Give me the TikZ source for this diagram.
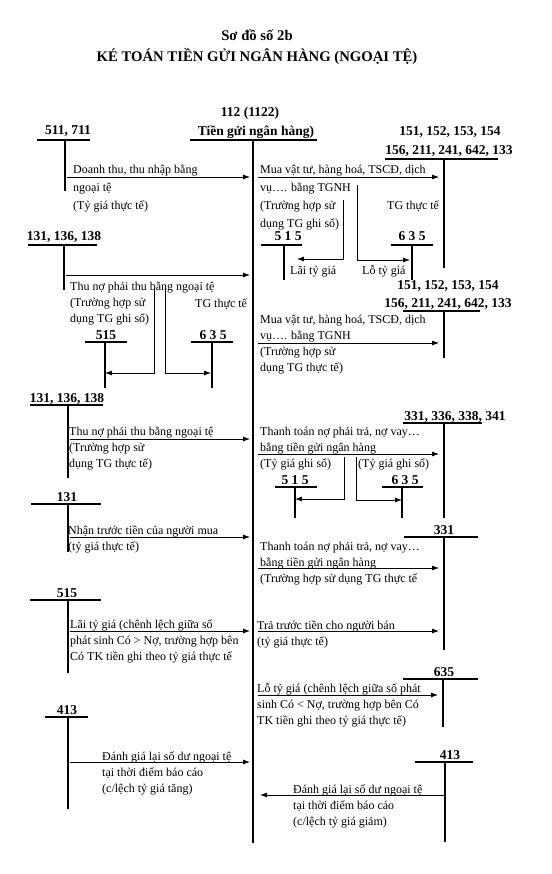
\documentclass[tikz,border=0pt]{standalone}
\usepackage{fontspec}
\setmainfont{Liberation Serif}
\usetikzlibrary{arrows.meta, calc}

\begin{document}
\begin{tikzpicture}[x=1pt, y=-1pt,
    title/.style={font=\fontsize{14.7}{17}\selectfont\bfseries, inner sep=0},
    acct/.style={font=\fontsize{13.5}{15}\selectfont\bfseries, inner sep=0, anchor=base},
    txt/.style={font=\fontsize{12}{16}\selectfont, align=left, inner sep=0, anchor=base west},
    tbar/.style={line width=1.1pt},
    flow/.style={-{Latex[length=7pt,width=5pt]}, line width=0.8pt},
    tomain/.style={flow, shorten <=2pt, shorten >=3pt},
    frommain/.style={flow, shorten <=5pt, shorten >=5pt}]

  \useasboundingbox (0,0) rectangle (551,874);

  \node[title] (ttl1) at (257,35) {Sơ đồ số 2b};
  \node[title] (ttl2) at (257,57) {KÉ TOÁN TIỀN GỬI NGÂN HÀNG (NGOẠI TỆ)};

  % TK 112
  \node[acct] (k112) at (250,117) {112 (1122)};
  \node[acct] (k112n) at (256,136) {Tiền gửi ngân hàng)};
  \draw[line width=1.4pt] (190,140) -- (317,140);
  \draw[line width=2.2pt] (253,140) coordinate (m) -- (253,843);

  % cac TK doi ung
  \foreach \nm/\lb/\lx/\ly/\xa/\xb/\by/\vx/\vy in {
      k511/{511, 711}/68/135/37/90/140/65/191,
      k515a/{5 1 5}/288/241/261/302/245/284/280,
      k635a/{6 3 5}/412/241/391/433/245/412/280,
      k131a/{131, 136, 138}/64/241/28/97/245/64/290,
      k515b/{515}/106/339/85/127/342/105/388,
      k635b/{6 3 5}/213/339/191/233/342/212/388,
      k131b/{131, 136, 138}/67/402/30/103/405/68/478,
      k331a/{331, 336, 338, 341}/455/420/403/482/423/444/518,
      k515c/{5 1 5}/295/484/275/317/487/295/518,
      k635c/{6 3 5}/405/484/382/423/487/402/518,
      k131c/{131}/67/501/31/101/504/68/552,
      k331b/{331}/444/534/404/478/537/444/650,
      k515d/{515}/67/597/30/101/600/68/673,
      k635d/{635}/444/676/403/478/679/443/727,
      k413a/{413}/67/714/45/88/717/68/809,
      k413b/{413}/450/759/415/473/762/445/842}
  {
    \node[acct] (\nm) at (\lx,\ly) {\lb};
    \draw[tbar] (\xa,\by) -- (\xb,\by);
    \draw[tbar] (\vx,\by) coordinate (v\nm) -- (\vx,\vy);
  }

  \node[acct] (k151a) at (450,136) {151, 152, 153, 154};
  \node[acct] (k156a) at (449,155) {156, 211, 241, 642, 133};
  \draw[tbar] (385,159) -- (498,159);
  \draw[tbar] (444,159) coordinate (vk151a) -- (444,268);
  \node[acct] (k151b) at (448,289) {151, 152, 153, 154};
  \node[acct] (k156b) at (448,307) {156, 211, 241, 642, 133};
  \draw[tbar] (403,311) -- (480,311);
  \draw[tbar] (444,311) coordinate (vk151b) -- (444,358);

  % cac dong
  \foreach \n/\y in {1/177, 2/275, 3/343, 4/439, 5/454, 6/537, 7/568, 8/631, 9/695, 10/762, 11/795}
    \coordinate (r\n) at (0,\y);

  \draw[tomain] (vk511 |- r1) -- (m |- r1);
  \draw[frommain] (m |- r1) -- (vk151a |- r1);
  \draw[tomain] (vk131a |- r2) -- (m |- r2);
  \draw[frommain] (m |- r3) -- (vk151b |- r3);
  \draw[tomain] (vk131b |- r4) -- (m |- r4);
  \draw[frommain] (m |- r5) -- (vk331a |- r5);
  \draw[tomain] (vk131c |- r6) -- (m |- r6);
  \draw[frommain] (m |- r7) -- (vk331b |- r7);
  \draw[tomain] (vk515d |- r8) -- (m |- r8);
  \draw[frommain] (m |- r8) -- (vk331b |- r8);
  \draw[frommain] (m |- r9) -- (vk635d |- r9);
  \draw[tomain] (vk413a |- r10) -- (m |- r10);
  \draw[flow, shorten >=7pt] (vk413b |- r11) -- (m |- r11);

  % nhanh chenh lech ty gia
  \coordinate (b1) at (343,200); \coordinate (e1) at (297,259);
  \coordinate (b2) at (357,185); \coordinate (e2) at (410,260);
  \coordinate (b3) at (154,288); \coordinate (e3) at (105,373);
  \coordinate (b4) at (165,288); \coordinate (e4) at (211,373);
  \coordinate (b5) at (344,457); \coordinate (e5) at (295,499);
  \coordinate (b6) at (356,457); \coordinate (e6) at (402,500);
  \foreach \i in {1,...,6}
    \draw[flow] (b\i) |- (e\i);

  % dien giai (base = dong cuoi)
  \node[txt] (d1) at (73,210) {Doanh thu, thu nhập bằng\\[2pt]ngoại tệ\\[2pt](Tỷ giá thực tế)};
  \node[txt] (d2) at (260,228) {Mua vật tư, hàng hoá, TSCĐ, dịch\\[2pt]vụ…. bằng TGNH\\[2pt](Trường hợp sử\\[2pt]dụng TG ghi sổ)};
  \node[txt] (d3) at (387,210) {TG thực tế};
  \node[txt] (d4) at (290,274) {Lãi tỷ giá};
  \node[txt] (d5) at (362,274) {Lỗ tỷ giá};
  \node[txt] (d6) at (70,322) {Thu nợ phải thu bằng ngoại tệ\\(Trường hợp sử\\dụng TG ghi sổ)};
  \node[txt] (d7) at (195,307) {TG thực tế};
  \node[txt] (d8) at (260,371) {Mua vật tư, hàng hoá, TSCĐ, dịch\\vụ…. bằng TGNH\\(Trường hợp sử\\dụng TG thực tế)};
  \node[txt] (d9) at (69,467) {Thu nợ phải thu bằng ngoại tệ\\(Trường hợp sử\\dụng TG thực tế)};
  \node[txt] (d10) at (260,467) {Thanh toán nợ phải trả, nợ vay…\\bằng tiền gửi ngân hàng\\(Tỷ giá ghi sổ)};
  \node[txt] (d11) at (358,467) {(Tỷ giá ghi sổ)};
  \node[txt] (d12) at (68,550) {Nhận trước tiền của người mua\\(tỷ giá thực tế)};
  \node[txt] (d13) at (260,582) {Thanh toán nợ phải trả, nợ vay…\\bằng tiền gửi ngân hàng\\(Trường hợp sử dụng TG thực tế};
  \node[txt] (d14) at (70,660) {Lãi tỷ giá (chênh lệch giữa số\\phát sinh Có > Nợ, trường hợp bên\\Có TK tiền ghi theo tỷ giá thực tế};
  \node[txt] (d15) at (257,645) {Trả trước tiền cho người bán\\(tỷ giá thực tế)};
  \node[txt] (d16) at (257,724) {Lỗ tỷ giá (chênh lệch giữa số phát\\sinh Có < Nợ, trường hợp bên Có\\TK tiền ghi theo tỷ giá thực tế)};
  \node[txt] (d17) at (102,792) {Đánh giá lại số dư ngoại tệ\\tại thời điểm báo cáo\\(c/lệch tỷ giá tăng)};
  \node[txt] (d18) at (293,825) {Đánh giá lại số dư ngoại tệ\\tại thời điểm báo cáo\\(c/lệch tỷ giá giảm)};
\end{tikzpicture}
\end{document}
